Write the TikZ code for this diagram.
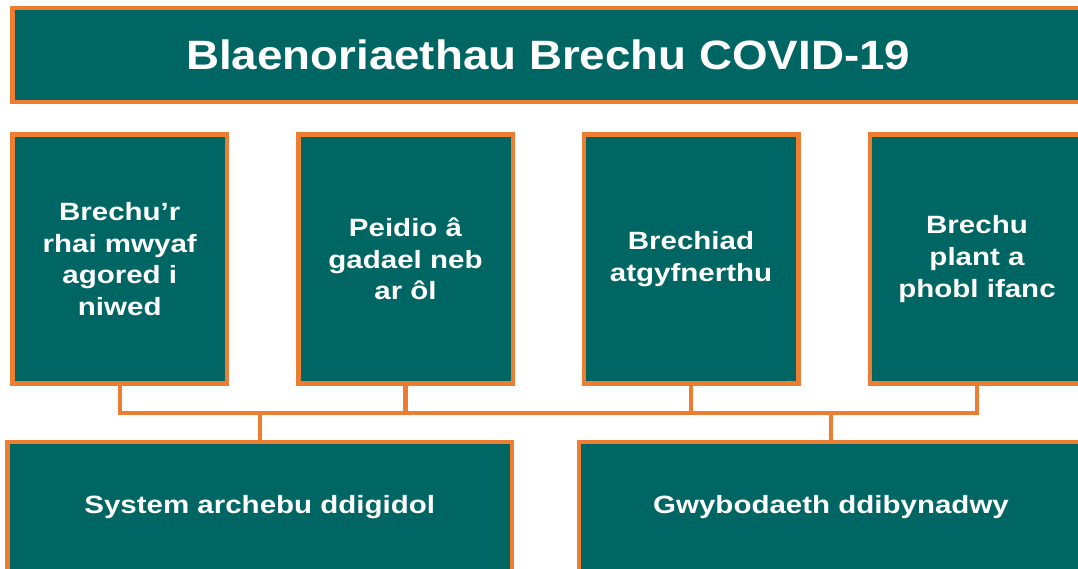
\documentclass[tikz,border=0pt]{standalone}
\usepackage{fontspec}
\setmainfont{Liberation Sans}
\newfontfamily\boxfont[FakeStretch=1.18]{Liberation Sans}
\newfontfamily\titlefont[FakeStretch=1.115]{Liberation Sans}
\definecolor{teal}{RGB}{0,102,99}
\definecolor{orng}{RGB}{237,125,49}
\begin{document}
\begin{tikzpicture}[x=1pt, y=-1pt,
        box/.style={draw=orng, fill=teal, line width=4.5pt, inner sep=0pt, text=white, align=center, font=\boxfont\bfseries\fontsize{25}{31.7}\selectfont},
        link/.style={draw=orng, line width=4.5pt}]
        \useasboundingbox (0,0) rectangle (1078,568);
        \clip (0,0) rectangle (1078,568);

        \node[box, minimum width=1071.5pt, minimum height=94pt, font=\titlefont\bfseries\fontsize{41}{48}\selectfont] (t) at (548.25,55) {Blaenoriaethau Brechu COVID-19};

        \node[box, minimum width=214.5pt, minimum height=249pt] (1) at (119.75,259) {Brechu’r\\rhai mwyaf\\agored i\\niwed};
        \node[box, minimum width=214.5pt, minimum height=249pt] (2) at (405.5,259) {Peidio â\\gadael neb\\ar ôl};
        \node[box, minimum width=214.5pt, minimum height=249pt] (3) at (691,259) {Brechiad\\atgyfnerthu};
        \node[box, minimum width=214.5pt, minimum height=249pt] (4) at (977,259) {Brechu\\plant a\\phobl ifanc};

        \node[box, minimum width=504.5pt, minimum height=130pt] (a) at (259.75,507) {System archebu ddigidol};
        \node[box, minimum width=504.5pt, minimum height=130pt] (b) at (831,507) {Gwybodaeth ddibynadwy};

        \coordinate (h) at (0,413);
        \path[link] (1.south) -- (1.south |- h) -- (4.south |- h) -- (4.south);
        \path[link] (2.south) -- (2.south |- h);
        \path[link] (3.south) -- (3.south |- h);
        \path[link] (a.north) -- (a.north |- h);
        \path[link] (b.north) -- (b.north |- h);
    \end{tikzpicture}
\end{document}
